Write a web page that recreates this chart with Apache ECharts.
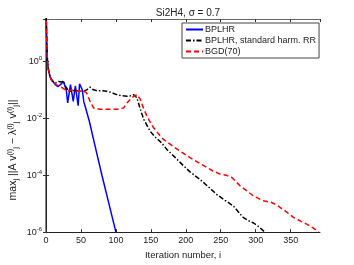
<!DOCTYPE html>
<html><head><meta charset="utf-8">
<script src="https://cdn.jsdelivr.net/npm/echarts@6/dist/echarts.min.js"></script>
<style>html,body{margin:0;padding:0;background:#fff}#c{width:354px;height:265px}</style>
</head><body><div id="c"></div>
<script>
// Values (iteration number, log10 of residual)
const bplhrIter = [0,1,2,3,4,5,6,8,10,13,15,17,19,21,23,25,27,29,31,35,39,42,44,46,48,50,52,54,56,62,70,80,90,100];
const bplhrLog  = [2,0.8,0.05,-0.2,-0.35,-0.45,-0.55,-0.63,-0.68,-0.8,-0.87,-0.88,-0.83,-0.8,-0.75,-0.7,-0.85,-1.0,-1.45,-0.81,-1.4,-0.85,-1.2,-1.55,-0.78,-0.82,-1.0,-1.4,-1.57,-2.1,-2.95,-4.0,-5.0,-6.0];
const stdIter = [0,1,2,3,4,6,8,11,14,18,22,25,28,31,35,40,47,54,58,63,67,73,80,87,95,101,108,116,121,125,130,135,140,149,156,165,173,185,197,206,220,232,244,256,268,282,290,297,305,313];
const stdLog  = [2,0.8,0.05,-0.2,-0.35,-0.55,-0.65,-0.72,-0.75,-0.7,-0.72,-0.68,-0.87,-0.98,-1.04,-1.02,-1.04,-1.04,-1.0,-0.9,-0.98,-1.03,-1.02,-1.04,-1.1,-1.16,-1.2,-1.22,-1.2,-1.16,-1.27,-1.68,-2.04,-2.45,-2.65,-2.85,-3.09,-3.38,-3.67,-3.88,-4.14,-4.4,-4.67,-4.88,-5.08,-5.48,-5.6,-5.68,-5.82,-6.0];
const bgdIter = [0,1,2,3,4,6,8,11,15,20,25,28,31,37,44,54,58,63,68,77,87,101,111,116,123,130,135,140,147,154,163,168,180,192,206,220,239,250,258,266,278,290,297,311,322,330,342,354,365,373,382,390];
const bgdLog  = [2,0.8,0.05,-0.2,-0.35,-0.55,-0.65,-0.72,-0.82,-0.87,-0.95,-1.0,-1.04,-1.0,-1.04,-1.04,-1.1,-1.39,-1.63,-1.68,-1.68,-1.68,-1.63,-1.45,-1.27,-1.16,-1.33,-1.68,-2.04,-2.33,-2.6,-2.74,-2.95,-3.15,-3.38,-3.58,-3.85,-3.97,-4.0,-4.08,-4.38,-4.6,-4.73,-4.9,-4.95,-5.05,-5.25,-5.48,-5.62,-5.72,-5.85,-5.99];
const seriesNames = ['BPLHR','BPLHR, standard harm. RR','BGD(70)'];
const xTicks = [0,50,100,150,200,250,300,350];
const yTickExps = [-6,-4,-2,0];

const toPairs = (xs, ls) => xs.map((x, k) => [x, Math.pow(10, ls[k])]);
const FONT = 'Liberation Sans, Arial, sans-serif';
const chart = echarts.init(document.getElementById('c'), null, {renderer:'canvas'});
const ticks = {show:true, inside:true, length:3, lineStyle:{color:'#333'}};
chart.setOption({
  animation:false,
  backgroundColor:'#fff',
  title:{text:'Si2H4, \u03c3 = 0.7', left:183, top:3, textAlign:'center',
    textStyle:{fontFamily:FONT, fontSize:10, fontWeight:'normal', color:'#222'}},
  grid:{left:46, right:34, top:19, bottom:32, containLabel:false},
  legend:{
    orient:'vertical', left:182, top:23, itemWidth:17, itemHeight:8, itemGap:2,
    padding:[2,3,2,3], borderColor:'#444', borderWidth:1, backgroundColor:'#fff',
    itemStyle:{opacity:0},
    textStyle:{fontFamily:FONT, fontSize:9, color:'#222', padding:[0,0,0,-3]},
    data:seriesNames
  },
  graphic:[{
    type:'text', x:13, y:150, rotation:Math.PI/2, silent:true,
    style:{
      text:'{t|max}{s|j}{t| ||A v}{p|(i)}{s|j}{t| \u2212 \u03bb}{p|(i)}{s|j}{t| v}{p|(i)}{s|j}{t|||}',
      align:'center', verticalAlign:'middle', fontFamily:FONT, fill:'#222',
      rich:{
        t:{fontFamily:FONT, fontSize:10.5, fill:'#222', color:'#222'},
        s:{fontFamily:FONT, fontSize:7.5, fill:'#222', color:'#222', verticalAlign:'bottom', padding:[6,0,0,0]},
        p:{fontFamily:FONT, fontSize:7.5, fill:'#222', color:'#222', verticalAlign:'top', padding:[0,0,6,0]}
      }
    }
  }],
  xAxis:[
    {type:'value', min:0, max:392, interval:50, position:'bottom',
      name:'Iteration number, i', nameLocation:'middle', nameGap:15,
      nameTextStyle:{fontFamily:FONT, fontSize:9.5, color:'#222'},
      axisLine:{show:true, lineStyle:{color:'#222', width:1}}, axisTick:ticks, splitLine:{show:false},
      axisLabel:{fontFamily:FONT, fontSize:9, color:'#222', margin:4, showMaxLabel:false,
        formatter:v => xTicks.includes(v) ? String(v) : ''}},
    {type:'value', min:0, max:392, interval:50, position:'top',
      axisLine:{show:true, lineStyle:{color:'#666', width:1}}, axisTick:ticks, splitLine:{show:false},
      axisLabel:{show:false}}
  ],
  yAxis:[
    {type:'log', logBase:10, min:1e-6, max:Math.pow(10,1.5), interval:2, position:'left',
      axisLine:{show:true, lineStyle:{color:'#888', width:2}}, axisTick:ticks, splitLine:{show:false},
      axisLabel:{margin:4, showMaxLabel:false,
        formatter:v => { const e = Math.round(Math.log10(v)); return yTickExps.includes(e) ? '{b|10}{e|' + e + '}' : ''; },
        rich:{ b:{fontFamily:FONT, fontSize:9, color:'#222'},
               e:{fontFamily:FONT, fontSize:6, color:'#222', verticalAlign:'top', padding:[0,0,6,0]} }}},
    {type:'log', logBase:10, min:1e-6, max:Math.pow(10,1.5), interval:2, position:'right',
      axisLine:{show:true, lineStyle:{color:'#222', width:1}}, axisTick:ticks, splitLine:{show:false},
      axisLabel:{show:false}}
  ],
  series:[
    {name:seriesNames[0], type:'line', data:toPairs(bplhrIter,bplhrLog), showSymbol:false, symbol:'none', clip:true,
      lineStyle:{color:'#0000ff', width:1.5, type:'solid'}, itemStyle:{color:'#0000ff'}},
    {name:seriesNames[1], type:'line', data:toPairs(stdIter,stdLog), showSymbol:false, symbol:'none', clip:true,
      lineStyle:{color:'#000000', width:1.5, type:[5,2,1.5,2]}, itemStyle:{color:'#000000'}},
    {name:seriesNames[2], type:'line', data:toPairs(bgdIter,bgdLog), showSymbol:false, symbol:'none', clip:true,
      lineStyle:{color:'#ff0000', width:1.5, type:[5,3]}, itemStyle:{color:'#ff0000'}}
  ]
});
</script></body></html>
